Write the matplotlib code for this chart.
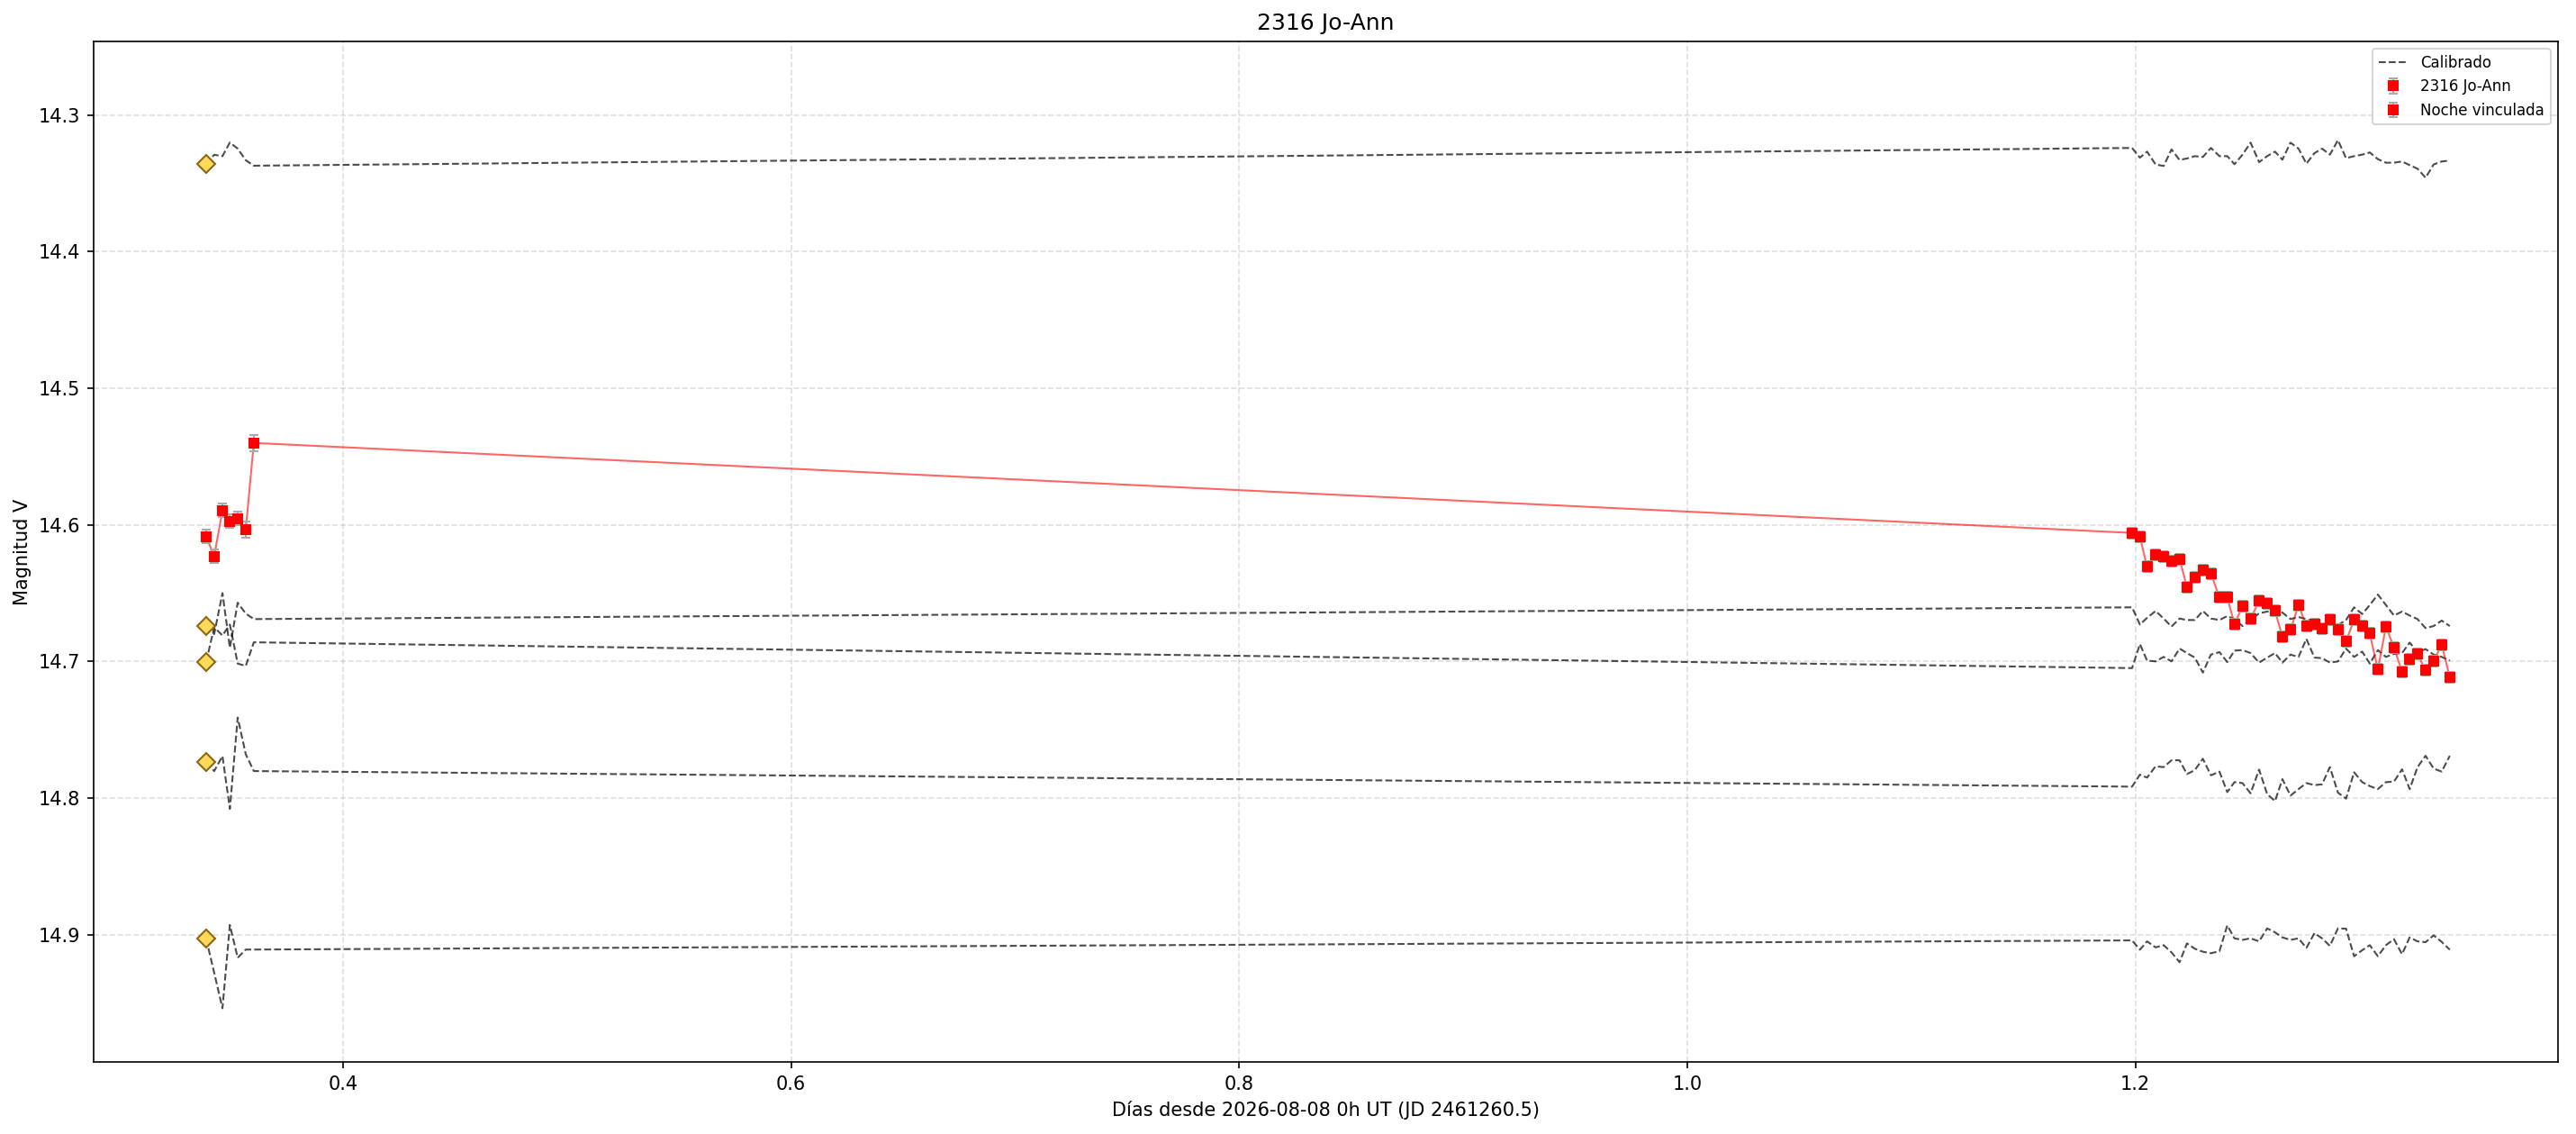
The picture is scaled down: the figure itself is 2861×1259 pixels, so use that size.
import matplotlib
matplotlib.use("Agg")
import matplotlib.pyplot as plt
import numpy as np

# ---- data ----
t_left = [0.3389, 0.3425, 0.3462, 0.3495, 0.3530, 0.3566, 0.3602]
t_right = [1.1985, 1.2020, 1.2052, 1.2090, 1.2126, 1.2161, 1.2197, 1.2230, 1.2265, 1.2301,
           1.2337, 1.2375, 1.2410, 1.2442, 1.2478, 1.2514, 1.2552, 1.2588, 1.2623, 1.2656,
           1.2692, 1.2728, 1.2763, 1.2799, 1.2833, 1.2868, 1.2904, 1.2940, 1.2976, 1.3012,
           1.3046, 1.3082, 1.3118, 1.3154, 1.3190, 1.3224, 1.3259, 1.3295, 1.3331, 1.3367,
           1.3403]

mag_left = [14.6086, 14.6231, 14.5894, 14.5974, 14.5954, 14.6033, 14.5400]
err_left = [0.005, 0.005, 0.005, 0.005, 0.005, 0.006, 0.006]
mag_right = [14.6059, 14.6088, 14.6308, 14.6220, 14.6235, 14.6268, 14.6250, 14.6455, 14.6383, 14.6334,
             14.6356, 14.6532, 14.6532, 14.6726, 14.6598, 14.6686, 14.6558, 14.6576, 14.6631, 14.6818,
             14.6769, 14.6587, 14.6741, 14.6726, 14.6763, 14.6697, 14.6769, 14.6851, 14.6697, 14.6741,
             14.6796, 14.7059, 14.6745, 14.6899, 14.7075, 14.6987, 14.6945, 14.7066, 14.6998, 14.6877,
             14.7115]
err_right = [0.004] * len(mag_right)

compE_left = [14.336, 14.329, 14.330, 14.320, 14.3245, 14.333, 14.337]
compE_right = [14.3240, 14.3311, 14.3267, 14.3361, 14.3372, 14.3251, 14.3328, 14.3317, 14.3300, 14.3306,
               14.3240, 14.3300, 14.3300, 14.3359, 14.3289, 14.3201, 14.3344, 14.3300, 14.3267, 14.3326,
               14.3201, 14.3245, 14.3355, 14.3278, 14.3245, 14.3289, 14.3183, 14.3315, 14.3300, 14.3289,
               14.3273, 14.3322, 14.3348, 14.3348, 14.3339, 14.3366, 14.3392, 14.3458, 14.3361, 14.3339,
               14.3333]
compA_left = [14.674, 14.680, 14.650, 14.690, 14.657, 14.665, 14.669]
compA_right = [14.6604, 14.6730, 14.6681, 14.6631, 14.6686, 14.6745, 14.6686, 14.6697, 14.6697, 14.6631,
               14.6686, 14.6697, 14.6668, 14.6690, 14.6741, 14.6697, 14.6648, 14.6635, 14.6631, 14.6642,
               14.6690, 14.6675, 14.6690, 14.6712, 14.6725, 14.6730, 14.6734, 14.6697, 14.6604, 14.6653,
               14.6587, 14.6510, 14.6587, 14.6664, 14.6635, 14.6664, 14.6690, 14.6756, 14.6741, 14.6701,
               14.6741]
compB_left = [14.7005, 14.675, 14.681, 14.673, 14.7016, 14.7033, 14.686]
compB_right = [14.7049, 14.6873, 14.6994, 14.7000, 14.6967, 14.7000, 14.6906, 14.6939, 14.6972, 14.7082,
               14.6950, 14.6932, 14.7005, 14.6921, 14.6917, 14.6939, 14.7009, 14.6972, 14.6939, 14.7009,
               14.6950, 14.6967, 14.6835, 14.6972, 14.6976, 14.7009, 14.7000, 14.6906, 14.6967, 14.6928,
               14.7016, 14.6917, 14.6967, 14.6945, 14.6939, 14.6862, 14.6932, 14.6910, 14.6950, 14.6967,
               14.6994]
compC_left = [14.7737, 14.7803, 14.7693, 14.808, 14.7411, 14.768, 14.7803]
compC_right = [14.7917, 14.7829, 14.7851, 14.7768, 14.7774, 14.7724, 14.7724, 14.7825, 14.7796, 14.7713,
               14.7834, 14.7807, 14.7957, 14.7884, 14.7891, 14.7966, 14.7792, 14.7972, 14.8023, 14.7862,
               14.7983, 14.7935, 14.7891, 14.7906, 14.7900, 14.7774, 14.7961, 14.8005, 14.7812, 14.7884,
               14.7913, 14.7935, 14.7884, 14.7880, 14.7790, 14.7935, 14.7774, 14.7691, 14.7785, 14.7807,
               14.7691]
compD_left = [14.903, 14.928, 14.954, 14.893, 14.917, 14.911, 14.911]
compD_right = [14.9043, 14.9111, 14.9050, 14.9094, 14.9078, 14.9131, 14.9203, 14.9065, 14.9104, 14.9126,
               14.9137, 14.9122, 14.8933, 14.9028, 14.9039, 14.9028, 14.9050, 14.8955, 14.8984, 14.9021,
               14.9039, 14.9028, 14.9098, 14.8990, 14.9028, 14.9083, 14.8955, 14.8957, 14.9159, 14.9115,
               14.9078, 14.9159, 14.9078, 14.9034, 14.9144, 14.9021, 14.9050, 14.9056, 14.9006, 14.9054,
               14.9111]

ref_mags = [14.336, 14.674, 14.7005, 14.7737, 14.903]

title = "2316 Jo-Ann"
xlabel = "Días desde 2026-08-08 0h UT (JD 2461260.5)"
ylabel = "Magnitud V"

# ---- figure ----
W, H, DPI = 2861, 1259, 150
fig = plt.figure(figsize=(W / DPI, H / DPI), dpi=DPI)
ax = fig.add_axes([104 / W, 1 - 1179 / H, (2841 - 104) / W, (1179 - 46) / H])

t_all = t_left + t_right
comps = [(compE_left, compE_right), (compA_left, compA_right), (compB_left, compB_right),
         (compC_left, compC_right), (compD_left, compD_right)]
for i, (cl, cr) in enumerate(comps):
    ax.plot(t_all, cl + cr, linestyle='--', color='black', alpha=0.7, linewidth=1.0,
            label='Calibrado' if i == 0 else None, zorder=2)

ax.plot([t_left[0]] * len(ref_mags), ref_mags, linestyle='none', marker='D', markersize=7,
        markerfacecolor='#FFD95A', markeredgecolor='#8B6914', markeredgewidth=1.0, zorder=4)

ax.plot(t_all, mag_left + mag_right, color='red', alpha=0.6, linewidth=1.0, zorder=3)
ax.errorbar(t_left, mag_left, yerr=err_left, fmt='s', color='red', markersize=4.5,
            ecolor='#aaaaaa', elinewidth=1.0, capsize=2.5, capthick=1.0, linestyle='none',
            label='2316 Jo-Ann', zorder=5)
ax.errorbar(t_right, mag_right, yerr=err_right, fmt='s', color='red', markersize=4.5,
            ecolor='#aaaaaa', elinewidth=1.0, capsize=2.5, capthick=1.0, linestyle='none',
            label='Noche vinculada', zorder=5)

ax.set_xlim(0.2887, 1.3886)
ax.set_ylim(14.9933, 14.246)
ax.set_yticks([14.3, 14.4, 14.5, 14.6, 14.7, 14.8, 14.9])
ax.grid(True, linestyle='--', alpha=0.4)
ax.set_title(title, fontsize=12)
ax.set_xlabel(xlabel)
ax.set_ylabel(ylabel)
ax.legend(loc='upper right', fontsize=8)

fig.savefig("out.png", dpi=DPI)
